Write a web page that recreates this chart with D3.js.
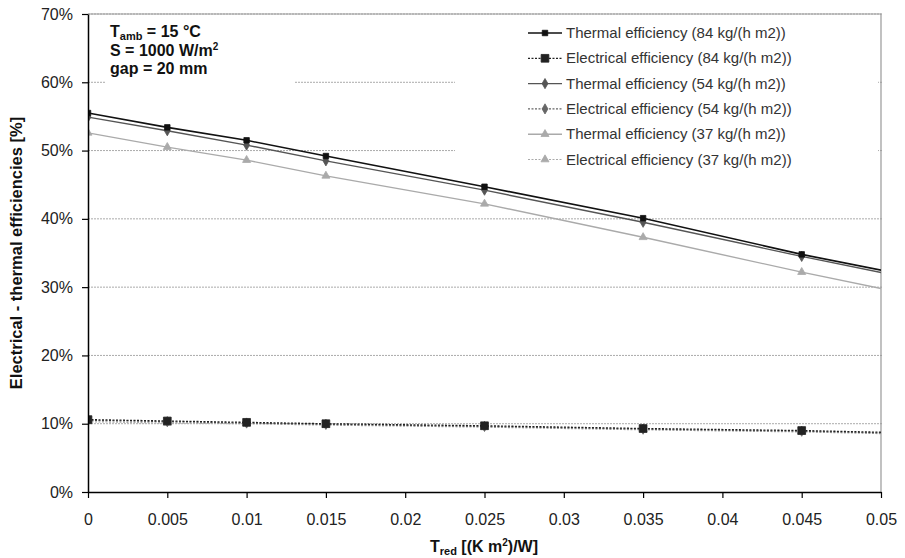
<!DOCTYPE html>
<html><head><meta charset="utf-8">
<script src="https://cdn.jsdelivr.net/npm/d3@7"></script>
<style>body{margin:0;background:#fff}svg{display:block;font-family:"Liberation Sans",Arial,sans-serif}</style>
</head><body><svg id="c" width="905" height="558"></svg>
<script>
const xValues = [0, 0.005, 0.01, 0.015, 0.025, 0.035, 0.045, 0.055];
const xTicks = [0, 0.005, 0.01, 0.015, 0.02, 0.025, 0.03, 0.035, 0.04, 0.045, 0.05];
const yTicks = [0, 10, 20, 30, 40, 50, 60, 70];
const thermal84 = [55.5, 53.4, 51.5, 49.2, 44.7, 40.1, 34.8, 30.2];
const electrical84 = [10.6, 10.4, 10.2, 10.0, 9.7, 9.3, 9.0, 8.5];
const thermal54 = [54.9, 52.9, 50.8, 48.5, 44.2, 39.5, 34.5, 29.8];
const electrical54 = [10.5, 10.3, 10.1, 9.9, 9.6, 9.2, 8.9, 8.4];
const thermal37 = [52.6, 50.5, 48.6, 46.3, 42.2, 37.3, 32.2, 27.4];
const electrical37 = [10.3, 10.1, 10.0, 9.8, 9.5, 9.1, 8.8, 8.3];
const seriesNames = ["Thermal efficiency (84 kg/(h m2))","Electrical efficiency (84 kg/(h m2))","Thermal efficiency (54 kg/(h m2))","Electrical efficiency (54 kg/(h m2))","Thermal efficiency (37 kg/(h m2))","Electrical efficiency (37 kg/(h m2))"];

const series = [
 {name:seriesNames[0], v:thermal84, color:"#111", dash:null, sym:d3.symbolSquare, size:30, w:1.6},
 {name:seriesNames[1], v:electrical84, color:"#222", dash:"2,1.5", sym:d3.symbolSquare, size:60, w:1.3},
 {name:seriesNames[2], v:thermal54, color:"#555", dash:null, sym:d3.symbolDiamond, size:30, w:1.4},
 {name:seriesNames[3], v:electrical54, color:"#666", dash:"2,1.5", sym:d3.symbolDiamond, size:30, w:1.2},
 {name:seriesNames[4], v:thermal37, color:"#aaa", dash:null, sym:d3.symbolTriangle, size:28, w:1.4},
 {name:seriesNames[5], v:electrical37, color:"#aaa", dash:"2,1.5", sym:d3.symbolTriangle, size:28, w:1.2}
];

const svg = d3.select("#c");
const L=88, R=881, T=14, B=492;
const x = d3.scaleLinear().domain([0,0.05]).range([L,R]);
const y = d3.scaleLinear().domain([0,70]).range([B,T]);

svg.append("defs").append("clipPath").attr("id","clip").append("rect")
  .attr("x",L).attr("y",T-5).attr("width",R-L).attr("height",B-T+10);

// gridlines
svg.append("g").selectAll("line").data(yTicks.filter(d=>d>0)).join("line")
  .attr("x1",L).attr("x2",R+2).attr("y1",d=>y(d)).attr("y2",d=>y(d))
  .attr("stroke","#aaa").attr("stroke-width",1).attr("stroke-dasharray","2,1");

// annotation and legend white boxes
svg.append("rect").attr("x",105).attr("y",T+1).attr("width",190).attr("height",70).attr("fill","#fff");
svg.append("rect").attr("x",455).attr("y",T+1).attr("width",423).attr("height",164).attr("fill","#fff");

// frame top/right
svg.append("path").attr("d",`M${L},${T}H${R}V${B}`).attr("fill","none").attr("stroke","#999").attr("stroke-width",1.2);

// lines
const line = d3.line().x((d,i)=>x(xValues[i])).y(d=>y(d));
const g = svg.append("g").attr("clip-path","url(#clip)");
series.slice().reverse().forEach(s=>{
  g.append("path").datum(s.v).attr("d",line).attr("fill","none")
   .attr("stroke",s.color).attr("stroke-width",s.w).attr("stroke-dasharray",s.dash);
});
series.slice().reverse().forEach(s=>{
  g.selectAll(null).data(s.v.slice(0,7)).join("path")
   .attr("transform",(d,i)=>`translate(${x(xValues[i])},${y(d)})`)
   .attr("d",d3.symbol().type(s.sym).size(s.size))
   .attr("fill",s.color).attr("stroke",s.color).attr("stroke-width",0.8);
});

// axes
const ax = svg.append("g").attr("transform",`translate(0,${B})`)
  .call(d3.axisBottom(x).tickValues(xTicks).tickFormat(d=>d3.format("")(+d.toFixed(3))).tickSize(6).tickSizeOuter(0));
ax.select(".domain").attr("stroke","#000").attr("stroke-width",1.5);
ax.selectAll(".tick line").attr("stroke","#000").attr("stroke-width",1.2);
ax.selectAll("text").attr("font-size",16).attr("fill","#222").attr("y",22).attr("dy","0.71em").attr("font-family","Liberation Sans, Arial, sans-serif");

const ay = svg.append("g").attr("transform",`translate(${L},0)`)
  .call(d3.axisLeft(y).tickValues(yTicks).tickFormat(d=>d+"%").tickSize(6).tickSizeOuter(0));
ay.select(".domain").attr("stroke","#000").attr("stroke-width",1.5);
ay.selectAll(".tick line").attr("stroke","#000").attr("stroke-width",1.2);
ay.selectAll("text").attr("font-size",16).attr("fill","#222").attr("x",-15).attr("font-family","Liberation Sans, Arial, sans-serif");

// axis titles
const xt = svg.append("text").attr("x",484).attr("y",552).attr("text-anchor","middle")
  .attr("font-size",16).attr("font-weight","bold").attr("fill","#111");
xt.append("tspan").text("T");
xt.append("tspan").attr("font-size",11).attr("dy",3).text("red");
xt.append("tspan").attr("dy",-3).text(" [(K m");
xt.append("tspan").attr("font-size",10).attr("dy",-6).text("2");
xt.append("tspan").attr("dy",6).text(")/W]");

svg.append("text").attr("transform","translate(22,253) rotate(-90)").attr("text-anchor","middle")
  .attr("font-size",16.5).attr("font-weight","bold").attr("fill","#111")
  .text("Electrical - thermal efficiencies [%]");

// annotation
const an = svg.append("g").attr("font-size",16).attr("font-weight","bold").attr("fill","#111");
const a1 = an.append("text").attr("x",110).attr("y",37);
a1.append("tspan").text("T");
a1.append("tspan").attr("font-size",11).attr("dy",3).text("amb");
a1.append("tspan").attr("dy",-3).text(" = 15 °C");
const a2 = an.append("text").attr("x",110).attr("y",56);
a2.append("tspan").text("S = 1000 W/m");
a2.append("tspan").attr("font-size",10).attr("dy",-6).text("2");
an.append("text").attr("x",110).attr("y",74).text("gap = 20 mm");

// legend
const lg = svg.append("g");
series.forEach((s,i)=>{
  const cy = 33 + i*25.3;
  lg.append("line").attr("x1",528).attr("x2",562).attr("y1",cy).attr("y2",cy)
    .attr("stroke",s.color).attr("stroke-width",s.w).attr("stroke-dasharray",s.dash);
  lg.append("path").attr("transform",`translate(545,${cy})`).attr("d",d3.symbol().type(s.sym).size(s.size))
    .attr("fill",s.color).attr("stroke",s.color).attr("stroke-width",0.8);
  lg.append("text").attr("x",566).attr("y",cy+5).attr("font-size",15).attr("fill","#333").text(s.name);
});
</script></body></html>
